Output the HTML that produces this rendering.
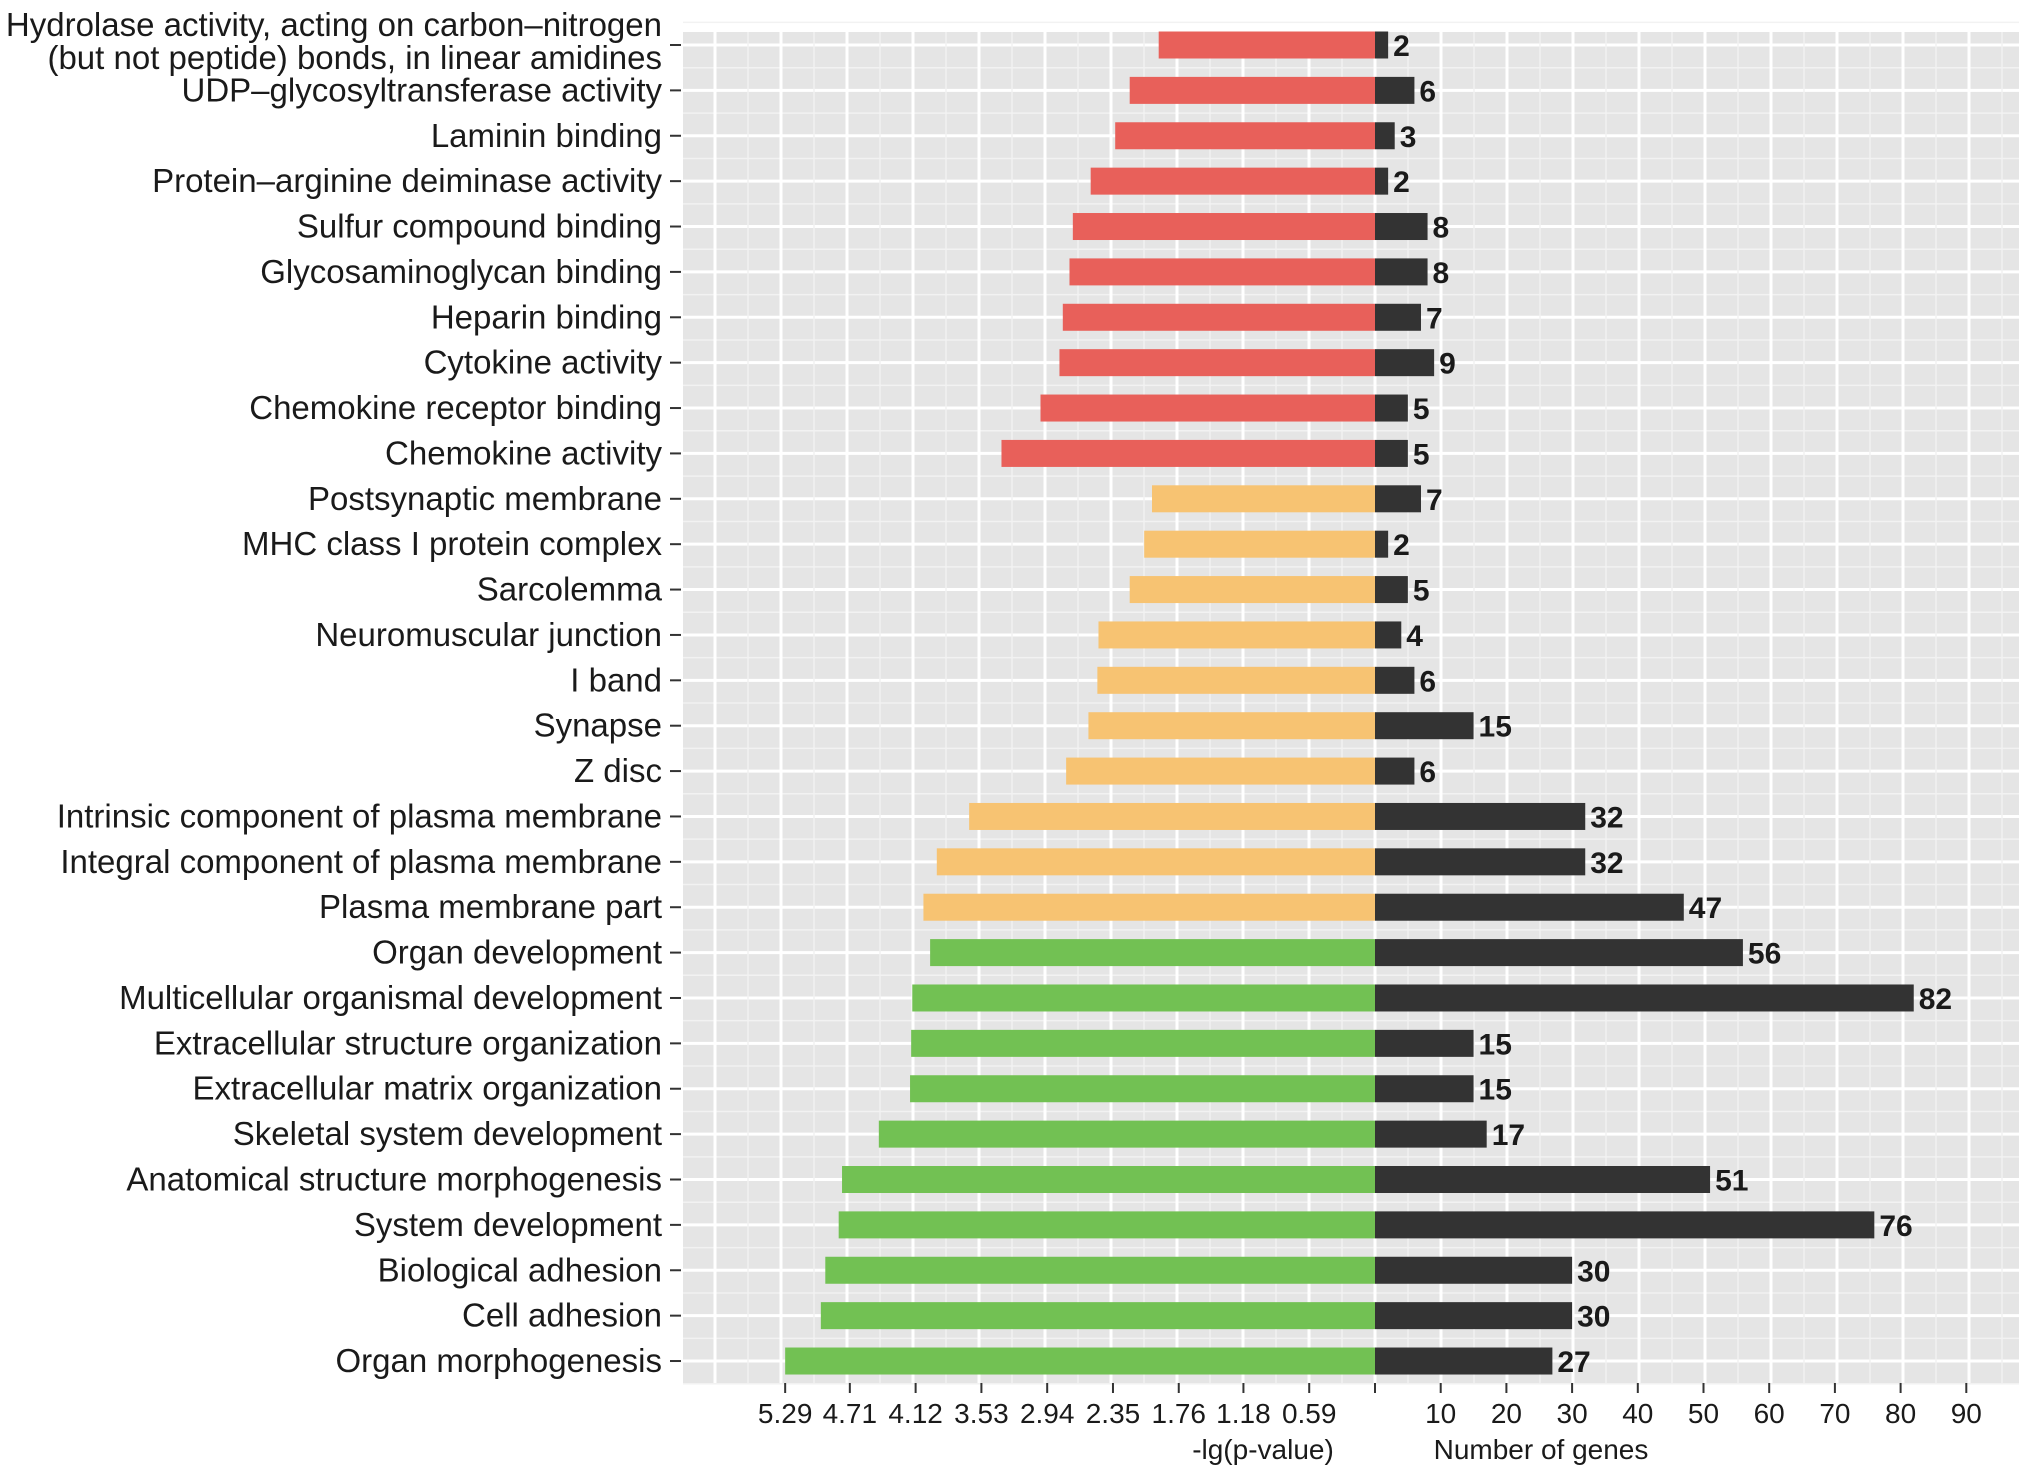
<!DOCTYPE html>
<html><head><meta charset="utf-8"><style>
html,body{margin:0;padding:0;background:#fff;}
svg{display:block;font-family:"Liberation Sans",sans-serif;}
</style></head><body>
<svg id="chart" width="2032" height="1478"></svg>
<script>
const categories=["Hydrolase activity, acting on carbon\u2013nitrogen|(but not peptide) bonds, in linear amidines","UDP\u2013glycosyltransferase activity","Laminin binding","Protein\u2013arginine deiminase activity","Sulfur compound binding","Glycosaminoglycan binding","Heparin binding","Cytokine activity","Chemokine receptor binding","Chemokine activity","Postsynaptic membrane","MHC class I protein complex","Sarcolemma","Neuromuscular junction","I band","Synapse","Z disc","Intrinsic component of plasma membrane","Integral component of plasma membrane","Plasma membrane part","Organ development","Multicellular organismal development","Extracellular structure organization","Extracellular matrix organization","Skeletal system development","Anatomical structure morphogenesis","System development","Biological adhesion","Cell adhesion","Organ morphogenesis"];
const pValues=[1.94,2.20,2.33,2.55,2.71,2.74,2.80,2.83,3.00,3.35,2.00,2.07,2.20,2.48,2.49,2.57,2.77,3.64,3.93,4.05,3.99,4.15,4.16,4.17,4.45,4.78,4.81,4.93,4.97,5.29];
const geneCounts=[2,6,3,2,8,8,7,9,5,5,7,2,5,4,6,15,6,32,32,47,56,82,15,15,17,51,76,30,30,27];
const groups=["MF","MF","MF","MF","MF","MF","MF","MF","MF","MF","CC","CC","CC","CC","CC","CC","CC","CC","CC","CC","BP","BP","BP","BP","BP","BP","BP","BP","BP","BP"];
const leftTicks=[5.29,4.71,4.12,3.53,2.94,2.35,1.76,1.18,0.59];
const rightTicks=[10,20,30,40,50,60,70,80,90];

const NS="http://www.w3.org/2000/svg";
const svg=document.getElementById('chart');
const X0=1375,PL=683,PR=2019,PT=32,PB=1383;
const xL=v=>X0-v*111.5;
const xR=n=>X0+n*6.57;
const yR=i=>45+i*45.38;
const colors={MF:"#e8605a",CC:"#f7c372",BP:"#72c153"};
function mk(tag,attrs,parent){const e=document.createElementNS(NS,tag);for(const k in attrs)e.setAttribute(k,attrs[k]);(parent||svg).appendChild(e);return e;}

const panel=mk('rect',{x:PL,y:PT,width:PR-PL,height:PB-PT,fill:'#e5e5e5'});


const grid=mk('g',{});


for(let i=-1;i<categories.length;i++){
  mk('line',{x1:PL,x2:PR,y1:yR(i)+22.7,y2:yR(i)+22.7,stroke:'#f2f2f2','stroke-width':1.5},grid);
  if(i>=0)mk('line',{x1:PL,x2:PR,y1:yR(i),y2:yR(i),stroke:'#fff','stroke-width':3},grid);
}
for(let k=-22;k<=22;k++){
  const x=X0+k*33;
  if(x<=PL||x>=PR)continue;
  mk('line',{x1:x,x2:x,y1:PT,y2:PB,stroke:k%2===0?'#fff':'#f2f2f2','stroke-width':k%2===0?3:1.5},grid);
}
const bh=27;
categories.forEach((c,i)=>{
  const y=yR(i);
  const b=mk('rect',{x:xL(pValues[i]),y:y-bh/2,width:X0-xL(pValues[i]),height:bh,fill:colors[groups[i]]});
  
  
  const g=mk('rect',{x:X0,y:y-bh/2,width:xR(geneCounts[i])-X0,height:bh,fill:'#333333'});
  
  
  const t=mk('text',{x:xR(geneCounts[i])+5,y:y+11,'font-size':30,'font-weight':'bold',fill:'#1a1a1a'});
  t.textContent=geneCounts[i];
  
  
  mk('line',{x1:670,x2:681,y1:y,y2:y,stroke:'#333','stroke-width':2});
  const parts=c.split('|');
  const lab=mk('text',{x:662,'font-size':33,fill:'#1a1a1a','text-anchor':'end'});
  
  
  if(parts.length===1){lab.setAttribute('y',y+11);lab.textContent=c;}
  else{
    const a=mk('tspan',{x:662,y:y-9},lab);a.textContent=parts[0];
    const b2=mk('tspan',{x:662,y:y+24},lab);b2.textContent=parts[1];
  }
});
function tick(x,label){
  mk('line',{x1:x,x2:x,y1:PB,y2:PB+10,stroke:'#333','stroke-width':2});
  const t=mk('text',{x:x,y:1423,'font-size':28,fill:'#1a1a1a','text-anchor':'middle'});
  t.textContent=label;
  
  
}
leftTicks.forEach(v=>tick(xL(v),v.toFixed(2)));
mk('line',{x1:X0,x2:X0,y1:PB,y2:PB+10,stroke:'#333','stroke-width':2});
rightTicks.forEach(v=>tick(xR(v),String(v)));
const t1=mk('text',{x:1263,y:1459,'font-size':28,fill:'#1a1a1a','text-anchor':'middle'});
t1.textContent='-lg(p-value)';


const t2=mk('text',{x:1541,y:1459,'font-size':28,fill:'#1a1a1a','text-anchor':'middle'});
t2.textContent='Number of genes';


</script>
</body></html>
